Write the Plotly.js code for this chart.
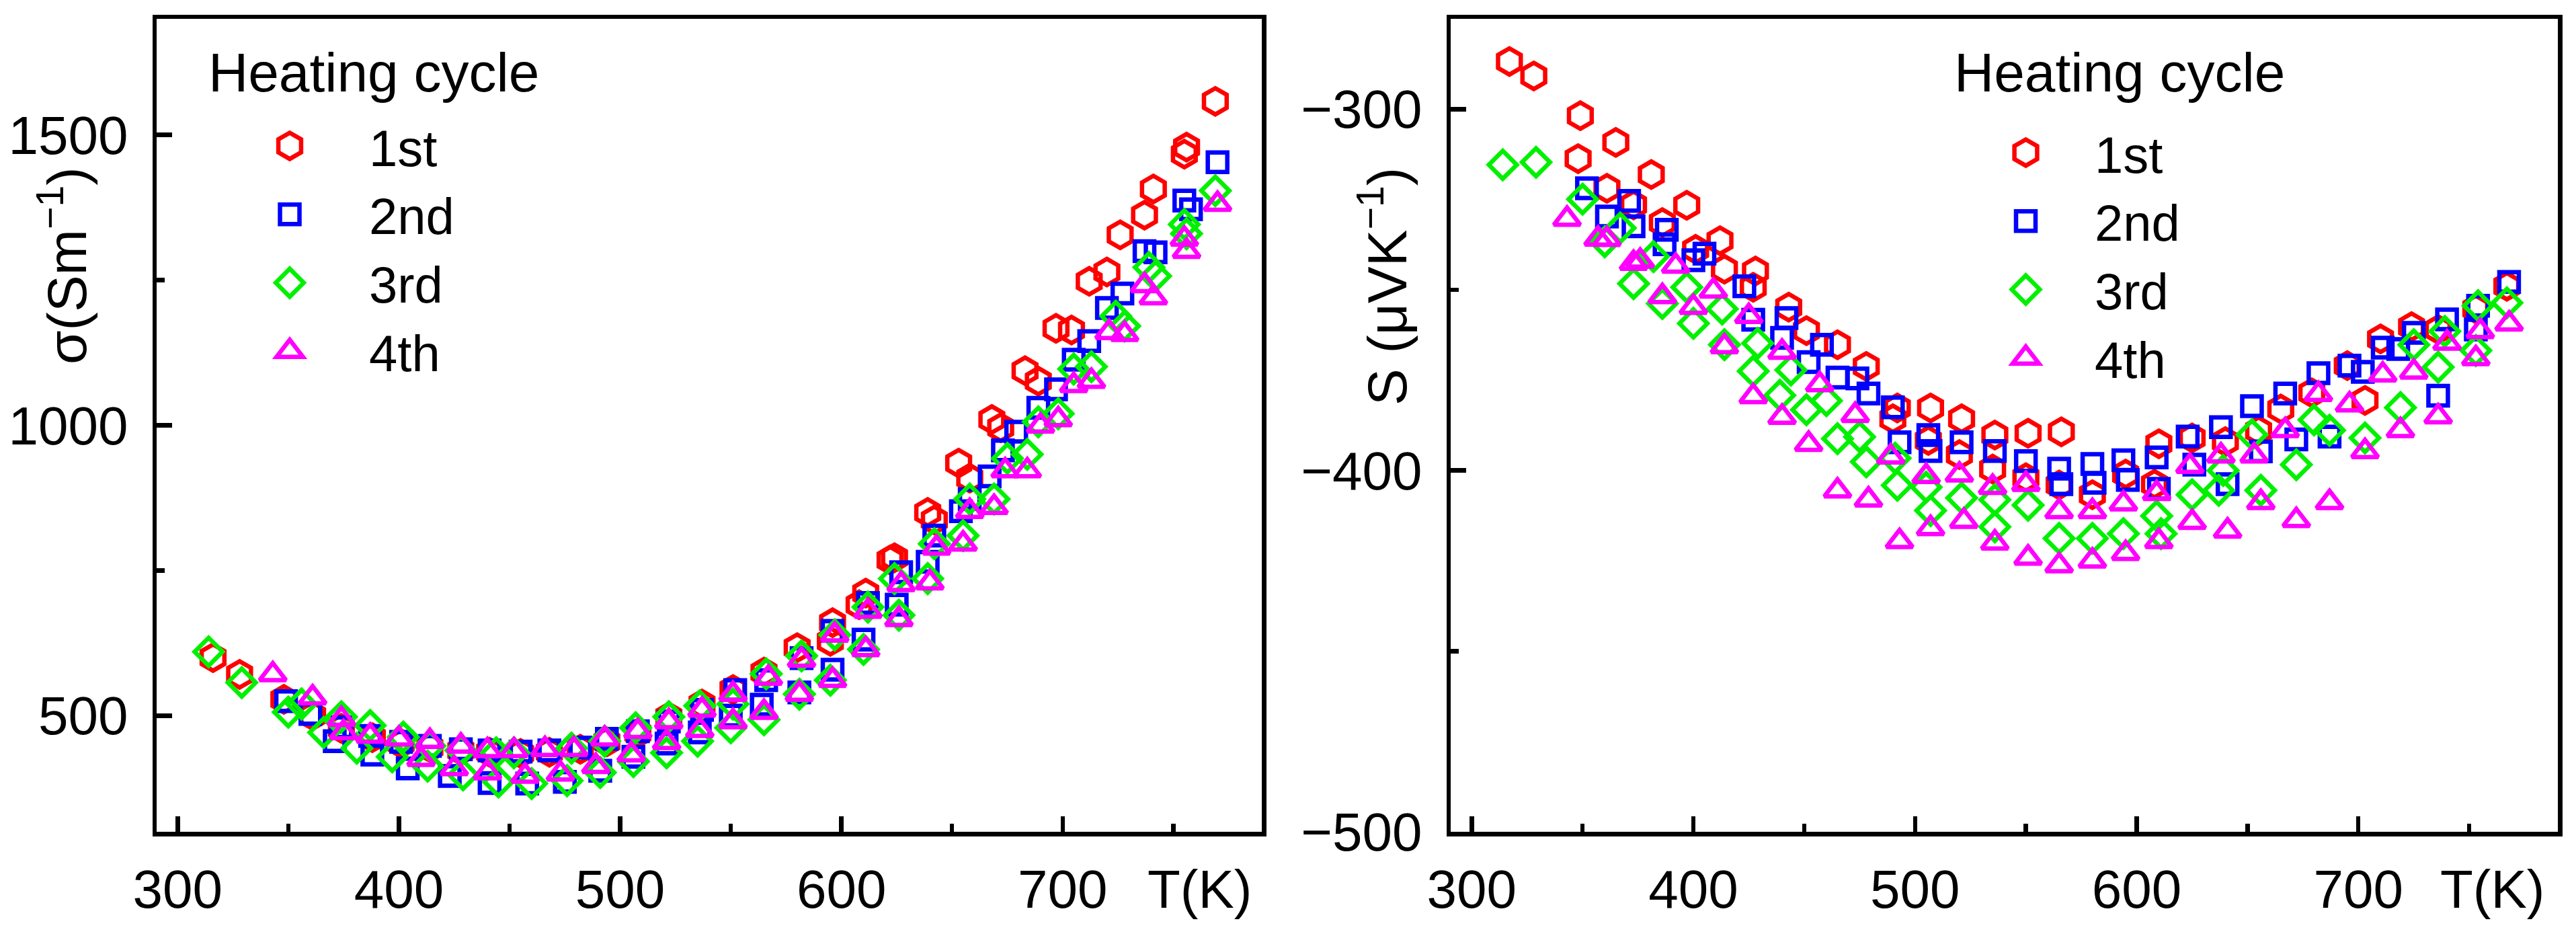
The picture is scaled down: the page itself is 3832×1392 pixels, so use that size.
<!DOCTYPE html>
<html>
<head>
<meta charset="utf-8">
<script src="https://cdn.plot.ly/plotly-3.0.1.min.js"></script>
<style>
  html, body { margin: 0; padding: 0; background: #ffffff; }
  #chart { width: 3832px; height: 1392px; }
</style>
</head>
<body>
<div id="chart"></div>
<script>
// ---------------- DATA ----------------
var seriesNames = ['1st', '2nd', '3rd', '4th'];
var legendTitle = 'Heating cycle';

// Left panel: electrical conductivity sigma (S m^-1) vs T (K)
var sigT1 = [316,328,348,361,374,388,401,414,428,441,455,468,482,494,508,522,537,551,565,580,595,596,608,611,622,624,639,642,653,658,668,672,683,689,697,704,712,720,726,737,741,755,756,769];
var sigV1 = [600,571,528,500,478,462,452,445,440,437,435,437,442,455,470,498,520,545,575,617,628,660,691,711,768,772,850,837,935,909,1010,996,1094,1076,1167,1164,1248,1264,1328,1362,1407,1467,1479,1558];

var sigT2 = [349,360,371,374,387,388,401,404,414,423,428,441,441,455,458,468,475,482,491,494,506,508,521,522,536,537,550,552,564,566,581,582,596,596,610,612,625,627,639,642,654,658,667,673,679,689,697,705,712,720,727,737,742,755,758,770];
var sigV2 = [525,503,456,480,465,433,455,409,448,396,442,384,440,438,383,440,386,445,405,460,429,473,452,490,471,510,500,544,519,561,540,599,579,646,631,694,691,747,765,810,852,873,912,957,989,1030,1062,1113,1145,1202,1227,1300,1298,1387,1372,1453];

var sigT3 = [314,329,350,356,366,374,381,387,397,402,413,414,428,429,444,445,452,460,476,478,491,493,506,507,521,522,535,536,550,551,565,566,581,582,595,597,610,612,624,626,639,642,655,658,669,675,684,689,698,705,713,724,728,739,742,755,756,769];
var sigV3 = [610,557,506,520,471,498,444,483,429,463,413,448,440,398,436,386,436,383,388,444,402,456,421,479,436,498,456,517,479,520,493,572,537,603,561,639,614,687,736,673,736,796,810,873,873,943,950,1006,1020,1097,1101,1188,1171,1272,1257,1346,1330,1404];

var sigT4 = [343,361,374,375,387,400,410,414,425,428,440,440,452,457,466,473,479,489,493,505,508,521,522,536,537,551,551,565,567,581,582,596,597,611,612,626,627,640,643,655,658,669,674,684,690,698,705,713,721,728,737,741,755,756,770];
var sigV4 = [571,531,494,471,465,460,425,456,409,448,402,440,440,396,442,400,442,413,460,433,473,454,490,475,510,490,537,506,565,537,596,561,639,614,680,666,726,729,789,796,852,859,922,922,999,1010,1069,1076,1160,1157,1241,1220,1321,1300,1381];

// Right panel: Seebeck coefficient S (uV K^-1) vs T (K)
var seeT1 = [317,328,348,349,361,365,373,381,386,397,401,412,414,427,428,443,451,465,478,490,492,506,507,520,521,535,536,550,551,565,566,580,595,608,610,625,640,655,665,679,695,703,710,724,736,753,767];
var seeV1 = [-286.8,-290.8,-313.7,-301.8,-321.9,-309.2,-326.5,-318.1,-331.4,-326.6,-338.8,-336.4,-344.3,-349.3,-344.8,-354.8,-361.3,-365.2,-371.2,-385.7,-382.7,-391.7,-382.7,-395.6,-385.7,-399.6,-390.2,-402,-389.7,-404,-389.3,-406.7,-401,-403.8,-392.6,-391,-392,-389,-383,-378.5,-371,-380.6,-363.6,-360.2,-361,-355.3,-349];

var seeT2 = [352,361,371,373,387,388,400,405,423,427,440,442,452,458,465,474,479,490,493,506,507,521,536,550,565,566,580,581,594,596,609,610,623,626,638,641,652,656,667,672,682,687,696,702,711,718,725,736,740,753,754,768];
var seeV2 = [-321.9,-329.7,-325.4,-332.4,-337.4,-333.4,-341.8,-340,-349,-358.3,-363.3,-357.8,-370,-365.2,-374.3,-374.5,-378.7,-382.5,-392.2,-390.2,-394.6,-392.2,-394.6,-397.4,-399.5,-403.8,-398.2,-403.4,-397.2,-402.6,-396.4,-405.1,-390.6,-398.4,-388,-403.8,-382.2,-394.7,-378.7,-391.4,-373.1,-390.6,-371,-372.7,-366,-366.4,-361.9,-379.3,-358.2,-361,-354.4,-347.8];

var seeT3 = [314,329,350,360,367,373,382,386,397,400,413,414,427,429,439,444,451,460,465,475,478,491,492,505,507,521,536,536,551,565,580,594,609,611,625,637,639,652,656,672,680,687,703,719,725,736,739,753,754,767];
var seeV3 = [-315.4,-314.7,-324.9,-336.7,-332.9,-348.3,-340.8,-353.8,-349.3,-359.3,-355.3,-365.2,-372.5,-364.8,-379.2,-372.2,-383.2,-380.7,-391.2,-390.7,-397.6,-396.6,-404.1,-404.6,-411.1,-407.6,-408.1,-415.6,-409.6,-418.8,-418.8,-417.5,-412.6,-417.5,-406.7,-405.5,-400,-390.1,-405.5,-398.4,-386,-388.9,-391,-382.6,-365.2,-371.4,-361.5,-366.8,-354.4,-353.6];

var seeT4 = [343,357,361,373,376,386,392,400,409,414,425,427,440,440,452,457,465,473,479,489,493,505,507,520,522,535,536,550,551,565,565,580,580,594,595,609,610,624,625,638,641,653,656,667,672,682,687,696,703,711,719,725,736,740,753,755,768];
var seeV4 = [-330.4,-335.9,-336,-342.6,-342,-351.8,-343.4,-354.8,-350.3,-365.7,-357.3,-379.5,-367.2,-385.2,-392.7,-376.2,-405.6,-384.7,-408.1,-396.2,-419.6,-401.6,-416,-401.2,-414,-404.6,-420,-403.8,-424.2,-411.3,-426.3,-411.3,-425,-409.2,-422.9,-406.3,-419.6,-398.8,-414.3,-395.9,-416.7,-395.9,-408.8,-388.9,-413.8,-378.9,-408.8,-381.8,-394.7,-373.5,-388.9,-372.7,-385.1,-364.7,-369,-361.5,-359.4];

// ---------------- STYLE ----------------
var colors  = ['#ff0000', '#0000ff', '#00f000', '#ff00ff'];
var symbols = ['hexagon-open', 'square-open', 'diamond-open', 'triangle-up-open'];
var msizes  = [39, 29, 32, 34];
var geomFactor = [1.0, 1.0, 1.3, 0.75]; // geometric height / marker size for each symbol
var LW = 6.5;
var FONT = 'Liberation Sans, Arial, Helvetica, sans-serif';

var sigT = [sigT1, sigT2, sigT3, sigT4], sigV = [sigV1, sigV2, sigV3, sigV4];
var seeT = [seeT1, seeT2, seeT3, seeT4], seeV = [seeV1, seeV2, seeV3, seeV4];

var traces = [];
for (var i = 0; i < 4; i++) {
  traces.push({
    type: 'scatter', mode: 'markers', x: sigT[i], y: sigV[i], name: seriesNames[i],
    xaxis: 'x', yaxis: 'y', legend: 'legend',
    marker: { symbol: symbols[i], size: msizes[i], color: colors[i], line: { width: LW, color: colors[i] } },
    cliponaxis: false
  });
}
for (var j = 0; j < 4; j++) {
  traces.push({
    type: 'scatter', mode: 'markers', x: seeT[j], y: seeV[j], name: seriesNames[j],
    xaxis: 'x2', yaxis: 'y2', legend: 'legend2',
    marker: { symbol: symbols[j], size: msizes[j], color: colors[j], line: { width: LW, color: colors[j] } },
    cliponaxis: false
  });
}

var W = 3832, H = 1392;
function px(x) { return x / W; }
function py(y) { return 1 - y / H; }

function axisBase(extra) {
  var a = {
    showline: true, linewidth: 6.5, linecolor: '#000', mirror: true,
    ticks: 'inside', ticklen: 23, tickwidth: 6.5, tickcolor: '#000',
    showgrid: false, zeroline: false,
    tickfont: { family: FONT, size: 80, color: '#000' }
  };
  for (var k in extra) a[k] = extra[k];
  return a;
}
function minorTicks(dt, t0) {
  return { ticks: 'inside', ticklen: 12, tickwidth: 6.5, tickcolor: '#000', dtick: dt, tick0: t0, showgrid: false };
}

var ydom = [py(1237), py(28)];

function legendBox(xLeft, yTop, itemW) {
  return {
    x: px(xLeft), y: py(yTop), xanchor: 'left', yanchor: 'top',
    bgcolor: 'rgba(0,0,0,0)', borderwidth: 0,
    font: { family: FONT, size: 76, color: '#000' },
    itemwidth: itemW, tracegroupgap: 0
  };
}

var layout = {
  width: W, height: H,
  margin: { l: 0, r: 0, t: 0, b: 0, pad: 0 },
  paper_bgcolor: '#fff', plot_bgcolor: '#fff',
  font: { family: FONT, color: '#000' },
  xaxis: axisBase({ domain: [px(233), px(1877)], range: [290.5, 790], tickmode: 'linear', tick0: 300, dtick: 100,
                    minor: minorTicks(50, 300), anchor: 'y', ticklabelstandoff: 10 }),
  yaxis: axisBase({ domain: ydom, range: [300, 1700], tickmode: 'linear', tick0: 500, dtick: 500,
                    minor: minorTicks(250, 500), anchor: 'x', ticklabelstandoff: 20 }),
  xaxis2: axisBase({ domain: [px(2158), px(3805)], range: [290.5, 790], tickmode: 'linear', tick0: 300, dtick: 100,
                    minor: minorTicks(50, 300), anchor: 'y2', ticklabelstandoff: 10 }),
  yaxis2: axisBase({ domain: ydom, range: [-500, -275], tickmode: 'linear', tick0: -500, dtick: 100,
                    minor: minorTicks(50, -500), anchor: 'x2', ticklabelstandoff: 20 }),
  legend: legendBox(313, 161, 226),
  legend2: legendBox(2911, 171, 195),
  showlegend: true,
  annotations: [
    { xref: 'paper', yref: 'paper', x: px(308), y: py(107), xanchor: 'left', yanchor: 'middle',
      text: legendTitle, showarrow: false, font: { family: FONT, size: 82, color: '#000' } },
    { xref: 'paper', yref: 'paper', x: px(2905), y: py(108), xanchor: 'left', yanchor: 'middle',
      text: legendTitle, showarrow: false, font: { family: FONT, size: 82, color: '#000' } },
    { xref: 'paper', yref: 'paper', x: px(93), y: py(395), xanchor: 'center', yanchor: 'middle',
      text: 'σ(Sm<sup>−1</sup>)', textangle: -90, showarrow: false,
      font: { family: FONT, size: 82, color: '#000' } },
    { xref: 'paper', yref: 'paper', x: px(2058), y: py(426), xanchor: 'center', yanchor: 'middle',
      text: 'S (μVK<sup>−1</sup>)', textangle: -90, showarrow: false,
      font: { family: FONT, size: 82, color: '#000' } },
    { xref: 'paper', yref: 'paper', x: px(1865), y: py(1322), xanchor: 'right', yanchor: 'middle',
      text: 'T(K)', showarrow: false, font: { family: FONT, size: 80, color: '#000' } },
    { xref: 'paper', yref: 'paper', x: px(3788), y: py(1322), xanchor: 'right', yanchor: 'middle',
      text: 'T(K)', showarrow: false, font: { family: FONT, size: 80, color: '#000' } }
  ]
};

function enlargeLegendSymbols(gd) {
  var groups = gd.querySelectorAll('g.infolayer g.traces');
  groups.forEach(function (g) {
    var d = g.__data__;
    var tr = d && d[0] && d[0].trace;
    if (!tr) return;
    var idx = seriesNames.indexOf(tr.name);
    if (idx < 0) return;
    var desired = msizes[idx] * geomFactor[idx];
    g.querySelectorAll('path.scatterpts').forEach(function (p) {
      var bb = p.getBBox();
      if (!bb || !bb.height) return;
      var k = desired / bb.height;
      if (Math.abs(k - 1) < 0.02) return;
      var t = p.getAttribute('transform') || '';
      p.setAttribute('transform', t + ' scale(' + k + ')');
      p.style.strokeWidth = (LW / k) + 'px';
    });
  });
}

function dropEmptyTexts(gd) {
  gd.querySelectorAll('svg text').forEach(function (t) {
    if (!t.textContent || !t.textContent.trim()) t.parentNode.removeChild(t);
  });
}

Plotly.newPlot('chart', traces, layout, { staticPlot: true, displayModeBar: false }).then(function (gd) {
  enlargeLegendSymbols(gd);
  dropEmptyTexts(gd);
});
</script>
</body>
</html>
